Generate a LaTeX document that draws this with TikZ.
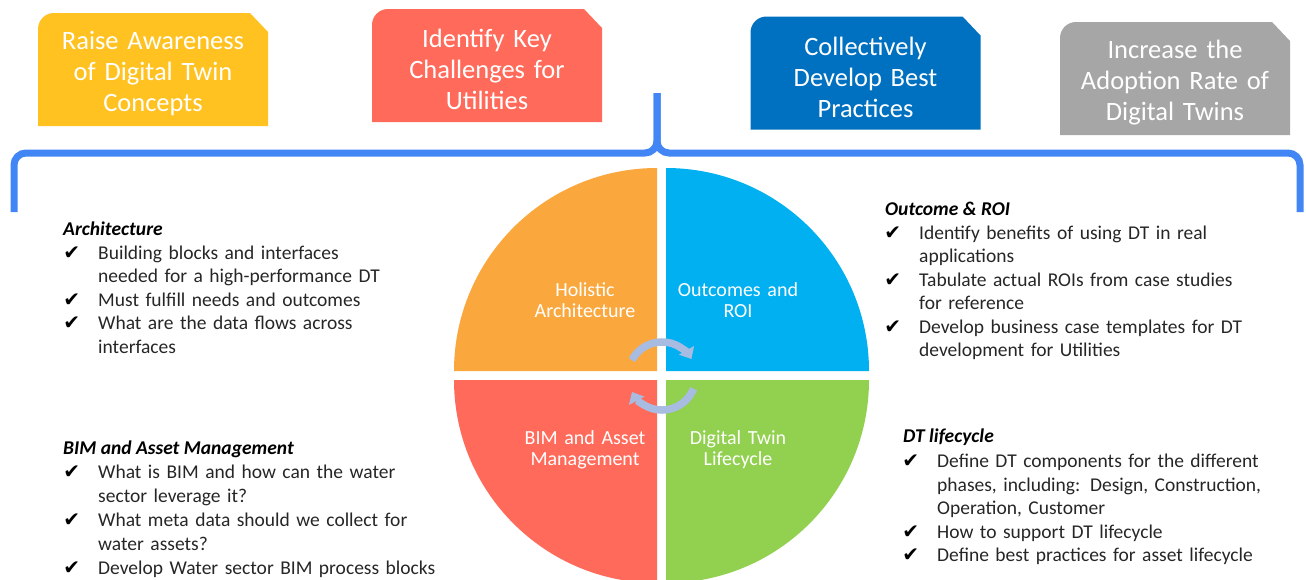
\documentclass[tikz,border=0pt]{standalone}
\usepackage{fontspec}
\setmainfont{Carlito}
\newfontfamily\symbolfont{DejaVu Sans}
\usetikzlibrary{positioning,arrows.meta}

\definecolor{goalYellow}{RGB}{255,194,32}
\definecolor{goalRed}{RGB}{255,106,90}
\definecolor{goalBlue}{RGB}{0,112,192}
\definecolor{goalGray}{RGB}{166,166,166}
\definecolor{qOrange}{RGB}{250,168,62}
\definecolor{qBlue}{RGB}{0,176,240}
\definecolor{qRed}{RGB}{255,106,90}
\definecolor{qGreen}{RGB}{146,208,80}
\definecolor{braceBlue}{RGB}{66,133,244}
\definecolor{loopBlue}{RGB}{168,188,226}
\definecolor{textGray}{RGB}{38,38,38}

\newcommand{\chk}{\leavevmode\llap{{\symbolfont\color{black}\fontsize{20}{20}\selectfont ✔}\hspace{18pt}}}

\tikzset{
    goal/.style={minimum width=230pt, minimum height=113pt, inner sep=0pt, text height=27pt,
        text width=224pt, align=center, text=white, font=\fontsize{26.5}{31}\selectfont,
        path picture={\fill[#1] (path picture bounding box.south west)
            -- ([yshift=-16pt]path picture bounding box.north west)
            arc[start angle=180, end angle=90, radius=16pt]
            -- ([xshift=-18pt]path picture bounding box.north east)
            -- ([yshift=-19pt]path picture bounding box.north east)
            -- (path picture bounding box.south east) -- cycle;}},
}

\begin{document}
\begin{tikzpicture}[x=1pt,y=1pt]
    \tikzstyle{brace}=[draw=braceBlue, line width=7pt, rounded corners=12pt]
    \tikzstyle{qlabel}=[text width=170pt, align=center, text=white, inner sep=0pt, font=\fontsize{20}{21}\selectfont]
    \tikzstyle{loopar}=[draw=loopBlue, line width=7.5pt, -{Triangle[width=17pt,length=10pt]}]
    \tikzstyle{topic}=[anchor=base west, inner sep=0pt, text=black, font=\bfseries\itshape\fontsize{19.5}{23.5}\selectfont]
    \tikzstyle{lst}=[anchor=base west, inner sep=0pt, text width=380pt, align=left, text=textGray, font=\fontsize{19.5}{23.5}\selectfont]

    \useasboundingbox (0,0) rectangle (1306,-579);

    \node[goal=goalYellow] (raise)    at (153,-69.5)  {Raise Awareness\\of Digital Twin\\Concepts};
    \node[goal=goalRed]    (identify) at (487,-65.5)  {Identify Key\\Challenges for\\Utilities};
    \node[goal=goalBlue]   (develop)  at (865.5,-73)  {Collectively\\Develop Best\\Practices};
    \node[goal=goalGray]   (increase) at (1175,-78.5) {Increase the\\Adoption Rate of\\Digital Twins};

    \coordinate (tip) at (657,-93);
    \draw[brace] (14,-212) -- (14,-153) -- (657,-153) -- (tip);
    \draw[brace] (1300,-212) -- (1300,-153) -- (657,-153) -- (tip);

    \foreach \qcol/\qang/\qx/\qy in {qOrange/90/657/-371, qBlue/0/666/-371, qRed/180/657/-380, qGreen/270/666/-380}
        \fill[\qcol] (\qx,\qy) -- ++(\qang:203) arc[start angle=\qang, delta angle=90, radius=203] -- cycle;

    \node[qlabel] (holistic)  at (585,-300) {Holistic\\Architecture};
    \node[qlabel] (outcomes)  at (738,-300) {Outcomes and\\ROI};
    \node[qlabel] (bim)       at (585,-450) {BIM and Asset\\Management};
    \node[qlabel] (lifecycle) at (738,-450) {Digital Twin\\Lifecycle};

    \coordinate (hub) at (662,-376);
    \draw[loopar] ([shift={(152:34)}]hub) arc[start angle=152, end angle=30, radius=34];
    \draw[loopar] ([shift={(-22:34)}]hub) arc[start angle=-22, end angle=-152, radius=34];

    \node[topic] (archT) at (63,-235) {Architecture};
    \node[lst] (archL) at ([xshift=35pt,yshift=-24pt]archT.base west)
        {\chk Building blocks and interfaces\\needed for a high-performance DT\\\chk Must fulfill needs and outcomes\\\chk What are the data flows across\\interfaces};

    \node[topic] (bimT) at (63,-454.5) {BIM and Asset Management};
    \node[lst, font=\fontsize{19.5}{24}\selectfont] (bimL) at ([xshift=35pt,yshift=-23.5pt]bimT.base west)
        {\chk What is BIM and how can the water\\sector leverage it?\\\chk What meta data should we collect for\\water assets?\\\chk Develop Water sector BIM process blocks};

    \node[topic] (roiT) at (885,-215.5) {Outcome \& ROI};
    \node[lst] (roiL) at ([xshift=34pt,yshift=-23.5pt]roiT.base west)
        {\chk Identify benefits of using DT in real\\applications\\\chk Tabulate actual ROIs from case studies\\for reference\\\chk Develop business case templates for DT\\development for Utilities};

    \node[topic] (dtT) at (903,-442.5) {DT lifecycle};
    \node[lst] (dtL) at ([xshift=34pt,yshift=-25pt]dtT.base west)
        {\chk Define DT components for the different\\phases, including: Design, Construction,\\Operation, Customer\\\chk How to support DT lifecycle\\\chk Define best practices for asset lifecycle};
\end{tikzpicture}
\end{document}
